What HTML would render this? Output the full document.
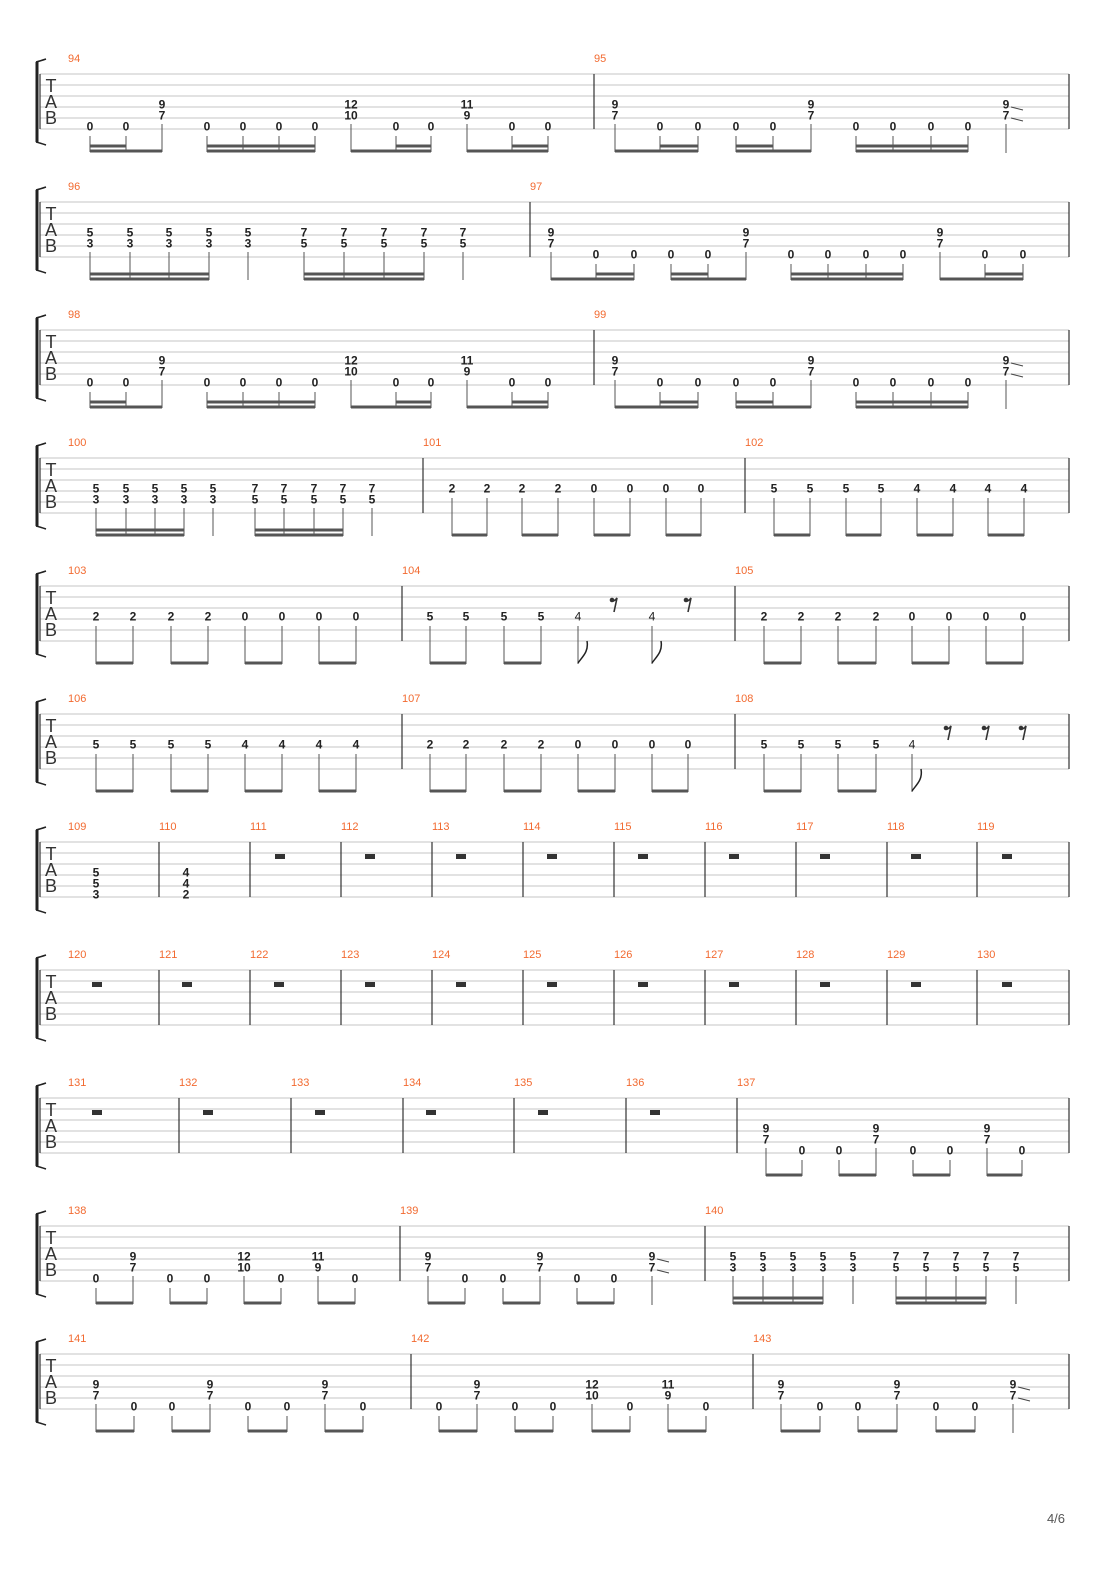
<!DOCTYPE html>
<html><head><meta charset="utf-8"><style>
body{margin:0;background:#fff}
svg{display:block}
.n{font:bold 12px "Liberation Sans",sans-serif;text-anchor:middle;fill:#222}
.f{font:12px "Liberation Sans",sans-serif;text-anchor:middle;fill:#222}
.m{font:11px "Liberation Sans",sans-serif;fill:#f26a30}
.tab{font:18px "Liberation Sans",sans-serif;text-anchor:middle;fill:#333}
.st{stroke:#c4c4c4;stroke-width:1;fill:none}
.br{stroke:#333;stroke-width:1.2;fill:none}
.sm{stroke:#555;stroke-width:1;fill:none}
.bm{stroke:#555;stroke-width:3;fill:none}
.cl{stroke:#222;stroke-width:3;fill:none}
.cc{stroke:#222;stroke-width:1.5;fill:none}
.sl{stroke:#444;stroke-width:1;fill:none}
.r{stroke:#333;stroke-width:1.6;fill:none}
</style></head><body>
<svg width="1110" height="1570" viewBox="0 0 1110 1570" xmlns="http://www.w3.org/2000/svg">
<defs></defs>

<!-- System 1 -->
<g transform="translate(0,74)">
<path class="st" d="M40 0H1069M40 11H1069M40 22H1069M40 33H1069M40 44H1069M40 55H1069"/>
<path class="cl" d="M37 -12V68"/><path class="cc" d="M36 -12Q40 -13 46 -15M36 68Q40 69 46 71"/>
<text class="tab" x="51" y="18">T</text><text class="tab" x="51" y="34">A</text><text class="tab" x="51" y="50">B</text>
<path class="br" d="M40 0V55M594 0V55M1069 0V55"/>
<text class="m" x="68" y="-12">94</text><text class="m" x="594" y="-12">95</text>
<text class="n" x="90" y="56.5">0</text><text class="n" x="126" y="56.5">0</text>
<text class="n" x="162" y="34.5">9</text><text class="n" x="162" y="45.5">7</text>
<text class="n" x="207" y="56.5">0</text><text class="n" x="243" y="56.5">0</text><text class="n" x="279" y="56.5">0</text><text class="n" x="315" y="56.5">0</text>
<text class="n" x="351" y="34.5">12</text><text class="n" x="351" y="45.5">10</text>
<text class="n" x="396" y="56.5">0</text><text class="n" x="431" y="56.5">0</text>
<text class="n" x="467" y="34.5">11</text><text class="n" x="467" y="45.5">9</text>
<text class="n" x="512" y="56.5">0</text><text class="n" x="548" y="56.5">0</text>
<text class="n" x="615" y="34.5">9</text><text class="n" x="615" y="45.5">7</text>
<text class="n" x="660" y="56.5">0</text><text class="n" x="698" y="56.5">0</text><text class="n" x="736" y="56.5">0</text><text class="n" x="773" y="56.5">0</text>
<text class="n" x="811" y="34.5">9</text><text class="n" x="811" y="45.5">7</text>
<text class="n" x="856" y="56.5">0</text><text class="n" x="893" y="56.5">0</text><text class="n" x="931" y="56.5">0</text><text class="n" x="968" y="56.5">0</text>
<text class="n" x="1006" y="34.5">9</text><text class="n" x="1006" y="45.5">7</text>
<path class="sl" d="M1011 33L1023 36M1011 44L1023 47"/>
<path class="sm" d="M90 62V78M126 62V78M162 50V78M207 62V78M243 62V78M279 62V78M315 62V78M351 50V78M396 62V78M431 62V78M467 50V78M512 62V78M548 62V78M615 50V78M660 62V78M698 62V78M736 62V78M773 62V78M811 50V78M856 62V78M893 62V78M931 62V78M968 62V78M1006 50V79"/>
<path class="bm" d="M90 77H162M207 77H315M351 77H431M467 77H548M615 77H698M736 77H811M856 77H968"/>
<path class="bm" d="M90 72H126M207 72H315M396 72H431M512 72H548M660 72H698M736 72H773M856 72H968"/>
</g>

<!-- System 2 -->
<g transform="translate(0,202)">
<path class="st" d="M40 0H1069M40 11H1069M40 22H1069M40 33H1069M40 44H1069M40 55H1069"/>
<path class="cl" d="M37 -12V68"/><path class="cc" d="M36 -12Q40 -13 46 -15M36 68Q40 69 46 71"/>
<text class="tab" x="51" y="18">T</text><text class="tab" x="51" y="34">A</text><text class="tab" x="51" y="50">B</text>
<path class="br" d="M40 0V55M530 0V55M1069 0V55"/>
<text class="m" x="68" y="-12">96</text><text class="m" x="530" y="-12">97</text>
<text class="n" x="90" y="34.5">5</text><text class="n" x="90" y="45.5">3</text>
<text class="n" x="130" y="34.5">5</text><text class="n" x="130" y="45.5">3</text>
<text class="n" x="169" y="34.5">5</text><text class="n" x="169" y="45.5">3</text>
<text class="n" x="209" y="34.5">5</text><text class="n" x="209" y="45.5">3</text>
<text class="n" x="248" y="34.5">5</text><text class="n" x="248" y="45.5">3</text>
<text class="n" x="304" y="34.5">7</text><text class="n" x="304" y="45.5">5</text>
<text class="n" x="344" y="34.5">7</text><text class="n" x="344" y="45.5">5</text>
<text class="n" x="384" y="34.5">7</text><text class="n" x="384" y="45.5">5</text>
<text class="n" x="424" y="34.5">7</text><text class="n" x="424" y="45.5">5</text>
<text class="n" x="463" y="34.5">7</text><text class="n" x="463" y="45.5">5</text>
<text class="n" x="551" y="34.5">9</text><text class="n" x="551" y="45.5">7</text>
<text class="n" x="596" y="56.5">0</text><text class="n" x="634" y="56.5">0</text><text class="n" x="671" y="56.5">0</text><text class="n" x="708" y="56.5">0</text>
<text class="n" x="746" y="34.5">9</text><text class="n" x="746" y="45.5">7</text>
<text class="n" x="791" y="56.5">0</text><text class="n" x="828" y="56.5">0</text><text class="n" x="866" y="56.5">0</text><text class="n" x="903" y="56.5">0</text>
<text class="n" x="940" y="34.5">9</text><text class="n" x="940" y="45.5">7</text>
<text class="n" x="985" y="56.5">0</text><text class="n" x="1023" y="56.5">0</text>
<path class="sm" d="M90 50V78M130 50V78M169 50V78M209 50V78M248 50V78M304 50V78M344 50V78M384 50V78M424 50V78M463 50V78M551 50V78M596 62V78M634 62V78M671 62V78M708 62V78M746 50V78M791 62V78M828 62V78M866 62V78M903 62V78M940 50V78M985 62V78M1023 62V78"/>
<path class="bm" d="M90 77H209M304 77H424M551 77H634M671 77H746M791 77H903M940 77H1023"/>
<path class="bm" d="M90 72H209M304 72H424M596 72H634M671 72H708M791 72H903M985 72H1023"/>
</g>

<!-- System 3 -->
<g transform="translate(0,330)">
<path class="st" d="M40 0H1069M40 11H1069M40 22H1069M40 33H1069M40 44H1069M40 55H1069"/>
<path class="cl" d="M37 -12V68"/><path class="cc" d="M36 -12Q40 -13 46 -15M36 68Q40 69 46 71"/>
<text class="tab" x="51" y="18">T</text><text class="tab" x="51" y="34">A</text><text class="tab" x="51" y="50">B</text>
<path class="br" d="M40 0V55M594 0V55M1069 0V55"/>
<text class="m" x="68" y="-12">98</text><text class="m" x="594" y="-12">99</text>
<text class="n" x="90" y="56.5">0</text><text class="n" x="126" y="56.5">0</text>
<text class="n" x="162" y="34.5">9</text><text class="n" x="162" y="45.5">7</text>
<text class="n" x="207" y="56.5">0</text><text class="n" x="243" y="56.5">0</text><text class="n" x="279" y="56.5">0</text><text class="n" x="315" y="56.5">0</text>
<text class="n" x="351" y="34.5">12</text><text class="n" x="351" y="45.5">10</text>
<text class="n" x="396" y="56.5">0</text><text class="n" x="431" y="56.5">0</text>
<text class="n" x="467" y="34.5">11</text><text class="n" x="467" y="45.5">9</text>
<text class="n" x="512" y="56.5">0</text><text class="n" x="548" y="56.5">0</text>
<text class="n" x="615" y="34.5">9</text><text class="n" x="615" y="45.5">7</text>
<text class="n" x="660" y="56.5">0</text><text class="n" x="698" y="56.5">0</text><text class="n" x="736" y="56.5">0</text><text class="n" x="773" y="56.5">0</text>
<text class="n" x="811" y="34.5">9</text><text class="n" x="811" y="45.5">7</text>
<text class="n" x="856" y="56.5">0</text><text class="n" x="893" y="56.5">0</text><text class="n" x="931" y="56.5">0</text><text class="n" x="968" y="56.5">0</text>
<text class="n" x="1006" y="34.5">9</text><text class="n" x="1006" y="45.5">7</text>
<path class="sl" d="M1011 33L1023 36M1011 44L1023 47"/>
<path class="sm" d="M90 62V78M126 62V78M162 50V78M207 62V78M243 62V78M279 62V78M315 62V78M351 50V78M396 62V78M431 62V78M467 50V78M512 62V78M548 62V78M615 50V78M660 62V78M698 62V78M736 62V78M773 62V78M811 50V78M856 62V78M893 62V78M931 62V78M968 62V78M1006 50V79"/>
<path class="bm" d="M90 77H162M207 77H315M351 77H431M467 77H548M615 77H698M736 77H811M856 77H968"/>
<path class="bm" d="M90 72H126M207 72H315M396 72H431M512 72H548M660 72H698M736 72H773M856 72H968"/>
</g>

<!-- System 4 -->
<g transform="translate(0,458)">
<path class="st" d="M40 0H1069M40 11H1069M40 22H1069M40 33H1069M40 44H1069M40 55H1069"/>
<path class="cl" d="M37 -12V68"/><path class="cc" d="M36 -12Q40 -13 46 -15M36 68Q40 69 46 71"/>
<text class="tab" x="51" y="18">T</text><text class="tab" x="51" y="34">A</text><text class="tab" x="51" y="50">B</text>
<path class="br" d="M40 0V55M423 0V55M745 0V55M1069 0V55"/>
<text class="m" x="68" y="-12">100</text><text class="m" x="423" y="-12">101</text><text class="m" x="745" y="-12">102</text>
<text class="n" x="96" y="34.5">5</text><text class="n" x="96" y="45.5">3</text>
<text class="n" x="126" y="34.5">5</text><text class="n" x="126" y="45.5">3</text>
<text class="n" x="155" y="34.5">5</text><text class="n" x="155" y="45.5">3</text>
<text class="n" x="184" y="34.5">5</text><text class="n" x="184" y="45.5">3</text>
<text class="n" x="213" y="34.5">5</text><text class="n" x="213" y="45.5">3</text>
<text class="n" x="255" y="34.5">7</text><text class="n" x="255" y="45.5">5</text>
<text class="n" x="284" y="34.5">7</text><text class="n" x="284" y="45.5">5</text>
<text class="n" x="314" y="34.5">7</text><text class="n" x="314" y="45.5">5</text>
<text class="n" x="343" y="34.5">7</text><text class="n" x="343" y="45.5">5</text>
<text class="n" x="372" y="34.5">7</text><text class="n" x="372" y="45.5">5</text>
<text class="n" x="452" y="34.5">2</text><text class="n" x="487" y="34.5">2</text><text class="n" x="522" y="34.5">2</text><text class="n" x="558" y="34.5">2</text>
<text class="n" x="594" y="34.5">0</text><text class="n" x="630" y="34.5">0</text><text class="n" x="666" y="34.5">0</text><text class="n" x="701" y="34.5">0</text>
<text class="n" x="774" y="34.5">5</text><text class="n" x="810" y="34.5">5</text><text class="n" x="846" y="34.5">5</text><text class="n" x="881" y="34.5">5</text>
<text class="n" x="917" y="34.5">4</text><text class="n" x="953" y="34.5">4</text><text class="n" x="988" y="34.5">4</text><text class="n" x="1024" y="34.5">4</text>
<path class="sm" d="M96 50V78M126 50V78M155 50V78M184 50V78M213 50V78M255 50V78M284 50V78M314 50V78M343 50V78M372 50V78M452 40V78M487 40V78M522 40V78M558 40V78M594 40V78M630 40V78M666 40V78M701 40V78M774 40V78M810 40V78M846 40V78M881 40V78M917 40V78M953 40V78M988 40V78M1024 40V78"/>
<path class="bm" d="M96 77H184M255 77H343M452 77H487M522 77H558M594 77H630M666 77H701M774 77H810M846 77H881M917 77H953M988 77H1024"/>
<path class="bm" d="M96 72H184M255 72H343"/>
</g>

<!-- System 5 -->
<g transform="translate(0,586)">
<path class="st" d="M40 0H1069M40 11H1069M40 22H1069M40 33H1069M40 44H1069M40 55H1069"/>
<path class="cl" d="M37 -12V68"/><path class="cc" d="M36 -12Q40 -13 46 -15M36 68Q40 69 46 71"/>
<text class="tab" x="51" y="18">T</text><text class="tab" x="51" y="34">A</text><text class="tab" x="51" y="50">B</text>
<path class="br" d="M40 0V55M402 0V55M735 0V55M1069 0V55"/>
<text class="m" x="68" y="-12">103</text><text class="m" x="402" y="-12">104</text><text class="m" x="735" y="-12">105</text>
<text class="n" x="96" y="34.5">2</text><text class="n" x="133" y="34.5">2</text><text class="n" x="171" y="34.5">2</text><text class="n" x="208" y="34.5">2</text>
<text class="n" x="245" y="34.5">0</text><text class="n" x="282" y="34.5">0</text><text class="n" x="319" y="34.5">0</text><text class="n" x="356" y="34.5">0</text>
<text class="n" x="430" y="34.5">5</text><text class="n" x="466" y="34.5">5</text><text class="n" x="504" y="34.5">5</text><text class="n" x="541" y="34.5">5</text>
<text class="f" x="578" y="34.5">4</text><text class="f" x="652" y="34.5">4</text>
<text class="n" x="764" y="34.5">2</text><text class="n" x="801" y="34.5">2</text><text class="n" x="838" y="34.5">2</text><text class="n" x="876" y="34.5">2</text>
<text class="n" x="912" y="34.5">0</text><text class="n" x="949" y="34.5">0</text><text class="n" x="986" y="34.5">0</text><text class="n" x="1023" y="34.5">0</text>
<path class="sm" d="M96 40V78M133 40V78M171 40V78M208 40V78M245 40V78M282 40V78M319 40V78M356 40V78M430 40V78M466 40V78M504 40V78M541 40V78M764 40V78M801 40V78M838 40V78M876 40V78M912 40V78M949 40V78M986 40V78M1023 40V78"/>
<path class="bm" d="M96 77H133M171 77H208M245 77H282M319 77H356M430 77H466M504 77H541M764 77H801M838 77H876M912 77H949M986 77H1023"/>
<path class="sm" d="M578 40V78M652 40V78"/>
<path class="cc" d="M578 77C582 71 589 66 587 55M652 77C656 71 663 66 661 55"/>
<circle cx="612" cy="14" r="2.3" fill="#333"/><path class="r" d="M611 15Q614 16 617 12L614 26"/>
<circle cx="686" cy="14" r="2.3" fill="#333"/><path class="r" d="M685 15Q688 16 691 12L688 26"/>
</g>

<!-- System 6 -->
<g transform="translate(0,714)">
<path class="st" d="M40 0H1069M40 11H1069M40 22H1069M40 33H1069M40 44H1069M40 55H1069"/>
<path class="cl" d="M37 -12V68"/><path class="cc" d="M36 -12Q40 -13 46 -15M36 68Q40 69 46 71"/>
<text class="tab" x="51" y="18">T</text><text class="tab" x="51" y="34">A</text><text class="tab" x="51" y="50">B</text>
<path class="br" d="M40 0V55M402 0V55M735 0V55M1069 0V55"/>
<text class="m" x="68" y="-12">106</text><text class="m" x="402" y="-12">107</text><text class="m" x="735" y="-12">108</text>
<text class="n" x="96" y="34.5">5</text><text class="n" x="133" y="34.5">5</text><text class="n" x="171" y="34.5">5</text><text class="n" x="208" y="34.5">5</text>
<text class="n" x="245" y="34.5">4</text><text class="n" x="282" y="34.5">4</text><text class="n" x="319" y="34.5">4</text><text class="n" x="356" y="34.5">4</text>
<text class="n" x="430" y="34.5">2</text><text class="n" x="466" y="34.5">2</text><text class="n" x="504" y="34.5">2</text><text class="n" x="541" y="34.5">2</text>
<text class="n" x="578" y="34.5">0</text><text class="n" x="615" y="34.5">0</text><text class="n" x="652" y="34.5">0</text><text class="n" x="688" y="34.5">0</text>
<text class="n" x="764" y="34.5">5</text><text class="n" x="801" y="34.5">5</text><text class="n" x="838" y="34.5">5</text><text class="n" x="876" y="34.5">5</text>
<text class="f" x="912" y="34.5">4</text>
<path class="sm" d="M96 40V78M133 40V78M171 40V78M208 40V78M245 40V78M282 40V78M319 40V78M356 40V78M430 40V78M466 40V78M504 40V78M541 40V78M578 40V78M615 40V78M652 40V78M688 40V78M764 40V78M801 40V78M838 40V78M876 40V78M912 40V78"/>
<path class="bm" d="M96 77H133M171 77H208M245 77H282M319 77H356M430 77H466M504 77H541M578 77H615M652 77H688M764 77H801M838 77H876"/>
<path class="cc" d="M912 77C916 71 923 66 921 55"/>
<circle cx="946" cy="14" r="2.3" fill="#333"/><path class="r" d="M945 15Q948 16 951 12L948 26"/>
<circle cx="984" cy="14" r="2.3" fill="#333"/><path class="r" d="M983 15Q986 16 989 12L986 26"/>
<circle cx="1021" cy="14" r="2.3" fill="#333"/><path class="r" d="M1020 15Q1023 16 1026 12L1023 26"/>
</g>

<!-- System 7 -->
<g transform="translate(0,842)">
<path class="st" d="M40 0H1069M40 11H1069M40 22H1069M40 33H1069M40 44H1069M40 55H1069"/>
<path class="cl" d="M37 -12V68"/><path class="cc" d="M36 -12Q40 -13 46 -15M36 68Q40 69 46 71"/>
<text class="tab" x="51" y="18">T</text><text class="tab" x="51" y="34">A</text><text class="tab" x="51" y="50">B</text>
<path class="br" d="M40 0V55M159 0V55M250 0V55M341 0V55M432 0V55M523 0V55M614 0V55M705 0V55M796 0V55M887 0V55M977 0V55M1069 0V55"/>
<text class="m" x="68" y="-12">109</text><text class="m" x="159" y="-12">110</text><text class="m" x="250" y="-12">111</text><text class="m" x="341" y="-12">112</text><text class="m" x="432" y="-12">113</text><text class="m" x="523" y="-12">114</text><text class="m" x="614" y="-12">115</text><text class="m" x="705" y="-12">116</text><text class="m" x="796" y="-12">117</text><text class="m" x="887" y="-12">118</text><text class="m" x="977" y="-12">119</text>
<text class="n" x="96" y="34.5">5</text><text class="n" x="96" y="45.5">5</text><text class="n" x="96" y="56.5">3</text>
<text class="n" x="186" y="34.5">4</text><text class="n" x="186" y="45.5">4</text><text class="n" x="186" y="56.5">2</text>
<g fill="#333"><rect x="275" y="12" width="10" height="5"/><rect x="365" y="12" width="10" height="5"/><rect x="456" y="12" width="10" height="5"/><rect x="547" y="12" width="10" height="5"/><rect x="638" y="12" width="10" height="5"/><rect x="729" y="12" width="10" height="5"/><rect x="820" y="12" width="10" height="5"/><rect x="911" y="12" width="10" height="5"/><rect x="1002" y="12" width="10" height="5"/></g>
</g>

<!-- System 8 -->
<g transform="translate(0,970)">
<path class="st" d="M40 0H1069M40 11H1069M40 22H1069M40 33H1069M40 44H1069M40 55H1069"/>
<path class="cl" d="M37 -12V68"/><path class="cc" d="M36 -12Q40 -13 46 -15M36 68Q40 69 46 71"/>
<text class="tab" x="51" y="18">T</text><text class="tab" x="51" y="34">A</text><text class="tab" x="51" y="50">B</text>
<path class="br" d="M40 0V55M159 0V55M250 0V55M341 0V55M432 0V55M523 0V55M614 0V55M705 0V55M796 0V55M887 0V55M977 0V55M1069 0V55"/>
<text class="m" x="68" y="-12">120</text><text class="m" x="159" y="-12">121</text><text class="m" x="250" y="-12">122</text><text class="m" x="341" y="-12">123</text><text class="m" x="432" y="-12">124</text><text class="m" x="523" y="-12">125</text><text class="m" x="614" y="-12">126</text><text class="m" x="705" y="-12">127</text><text class="m" x="796" y="-12">128</text><text class="m" x="887" y="-12">129</text><text class="m" x="977" y="-12">130</text>
<g fill="#333"><rect x="92" y="12" width="10" height="5"/><rect x="182" y="12" width="10" height="5"/><rect x="274" y="12" width="10" height="5"/><rect x="365" y="12" width="10" height="5"/><rect x="456" y="12" width="10" height="5"/><rect x="547" y="12" width="10" height="5"/><rect x="638" y="12" width="10" height="5"/><rect x="729" y="12" width="10" height="5"/><rect x="820" y="12" width="10" height="5"/><rect x="911" y="12" width="10" height="5"/><rect x="1002" y="12" width="10" height="5"/></g>
</g>

<!-- System 9 -->
<g transform="translate(0,1098)">
<path class="st" d="M40 0H1069M40 11H1069M40 22H1069M40 33H1069M40 44H1069M40 55H1069"/>
<path class="cl" d="M37 -12V68"/><path class="cc" d="M36 -12Q40 -13 46 -15M36 68Q40 69 46 71"/>
<text class="tab" x="51" y="18">T</text><text class="tab" x="51" y="34">A</text><text class="tab" x="51" y="50">B</text>
<path class="br" d="M40 0V55M179 0V55M291 0V55M403 0V55M514 0V55M626 0V55M737 0V55M1069 0V55"/>
<text class="m" x="68" y="-12">131</text><text class="m" x="179" y="-12">132</text><text class="m" x="291" y="-12">133</text><text class="m" x="403" y="-12">134</text><text class="m" x="514" y="-12">135</text><text class="m" x="626" y="-12">136</text><text class="m" x="737" y="-12">137</text>
<g fill="#333"><rect x="92" y="12" width="10" height="5"/><rect x="203" y="12" width="10" height="5"/><rect x="315" y="12" width="10" height="5"/><rect x="426" y="12" width="10" height="5"/><rect x="538" y="12" width="10" height="5"/><rect x="650" y="12" width="10" height="5"/></g>
<text class="n" x="766" y="34.5">9</text><text class="n" x="766" y="45.5">7</text>
<text class="n" x="802" y="56.5">0</text><text class="n" x="839" y="56.5">0</text>
<text class="n" x="876" y="34.5">9</text><text class="n" x="876" y="45.5">7</text>
<text class="n" x="913" y="56.5">0</text><text class="n" x="950" y="56.5">0</text>
<text class="n" x="987" y="34.5">9</text><text class="n" x="987" y="45.5">7</text>
<text class="n" x="1022" y="56.5">0</text>
<path class="sm" d="M766 50V78M802 62V78M839 62V78M876 50V78M913 62V78M950 62V78M987 50V78M1022 62V78"/>
<path class="bm" d="M766 77H802M839 77H876M913 77H950M987 77H1022"/>
</g>

<!-- System 10 -->
<g transform="translate(0,1226)">
<path class="st" d="M40 0H1069M40 11H1069M40 22H1069M40 33H1069M40 44H1069M40 55H1069"/>
<path class="cl" d="M37 -12V68"/><path class="cc" d="M36 -12Q40 -13 46 -15M36 68Q40 69 46 71"/>
<text class="tab" x="51" y="18">T</text><text class="tab" x="51" y="34">A</text><text class="tab" x="51" y="50">B</text>
<path class="br" d="M40 0V55M400 0V55M705 0V55M1069 0V55"/>
<text class="m" x="68" y="-12">138</text><text class="m" x="400" y="-12">139</text><text class="m" x="705" y="-12">140</text>
<text class="n" x="96" y="56.5">0</text>
<text class="n" x="133" y="34.5">9</text><text class="n" x="133" y="45.5">7</text>
<text class="n" x="170" y="56.5">0</text><text class="n" x="207" y="56.5">0</text>
<text class="n" x="244" y="34.5">12</text><text class="n" x="244" y="45.5">10</text>
<text class="n" x="281" y="56.5">0</text>
<text class="n" x="318" y="34.5">11</text><text class="n" x="318" y="45.5">9</text>
<text class="n" x="355" y="56.5">0</text>
<text class="n" x="428" y="34.5">9</text><text class="n" x="428" y="45.5">7</text>
<text class="n" x="465" y="56.5">0</text><text class="n" x="503" y="56.5">0</text>
<text class="n" x="540" y="34.5">9</text><text class="n" x="540" y="45.5">7</text>
<text class="n" x="577" y="56.5">0</text><text class="n" x="614" y="56.5">0</text>
<text class="n" x="652" y="34.5">9</text><text class="n" x="652" y="45.5">7</text>
<path class="sl" d="M657 33L669 36M657 44L669 47"/>
<text class="n" x="733" y="34.5">5</text><text class="n" x="733" y="45.5">3</text>
<text class="n" x="763" y="34.5">5</text><text class="n" x="763" y="45.5">3</text>
<text class="n" x="793" y="34.5">5</text><text class="n" x="793" y="45.5">3</text>
<text class="n" x="823" y="34.5">5</text><text class="n" x="823" y="45.5">3</text>
<text class="n" x="853" y="34.5">5</text><text class="n" x="853" y="45.5">3</text>
<text class="n" x="896" y="34.5">7</text><text class="n" x="896" y="45.5">5</text>
<text class="n" x="926" y="34.5">7</text><text class="n" x="926" y="45.5">5</text>
<text class="n" x="956" y="34.5">7</text><text class="n" x="956" y="45.5">5</text>
<text class="n" x="986" y="34.5">7</text><text class="n" x="986" y="45.5">5</text>
<text class="n" x="1016" y="34.5">7</text><text class="n" x="1016" y="45.5">5</text>
<path class="sm" d="M96 62V78M133 50V78M170 62V78M207 62V78M244 50V78M281 62V78M318 50V78M355 62V78M428 50V78M465 62V78M503 62V78M540 50V78M577 62V78M614 62V78M652 50V79M733 50V78M763 50V78M793 50V78M823 50V78M853 50V78M896 50V78M926 50V78M956 50V78M986 50V78M1016 50V78"/>
<path class="bm" d="M96 77H133M170 77H207M244 77H281M318 77H355M428 77H465M503 77H540M577 77H614M733 77H823M896 77H986"/>
<path class="bm" d="M733 72H823M896 72H986"/>
</g>

<!-- System 11 -->
<g transform="translate(0,1354)">
<path class="st" d="M40 0H1069M40 11H1069M40 22H1069M40 33H1069M40 44H1069M40 55H1069"/>
<path class="cl" d="M37 -12V68"/><path class="cc" d="M36 -12Q40 -13 46 -15M36 68Q40 69 46 71"/>
<text class="tab" x="51" y="18">T</text><text class="tab" x="51" y="34">A</text><text class="tab" x="51" y="50">B</text>
<path class="br" d="M40 0V55M411 0V55M753 0V55M1069 0V55"/>
<text class="m" x="68" y="-12">141</text><text class="m" x="411" y="-12">142</text><text class="m" x="753" y="-12">143</text>
<text class="n" x="96" y="34.5">9</text><text class="n" x="96" y="45.5">7</text>
<text class="n" x="134" y="56.5">0</text><text class="n" x="172" y="56.5">0</text>
<text class="n" x="210" y="34.5">9</text><text class="n" x="210" y="45.5">7</text>
<text class="n" x="248" y="56.5">0</text><text class="n" x="287" y="56.5">0</text>
<text class="n" x="325" y="34.5">9</text><text class="n" x="325" y="45.5">7</text>
<text class="n" x="363" y="56.5">0</text>
<text class="n" x="439" y="56.5">0</text>
<text class="n" x="477" y="34.5">9</text><text class="n" x="477" y="45.5">7</text>
<text class="n" x="515" y="56.5">0</text><text class="n" x="553" y="56.5">0</text>
<text class="n" x="592" y="34.5">12</text><text class="n" x="592" y="45.5">10</text>
<text class="n" x="630" y="56.5">0</text>
<text class="n" x="668" y="34.5">11</text><text class="n" x="668" y="45.5">9</text>
<text class="n" x="706" y="56.5">0</text>
<text class="n" x="781" y="34.5">9</text><text class="n" x="781" y="45.5">7</text>
<text class="n" x="820" y="56.5">0</text><text class="n" x="858" y="56.5">0</text>
<text class="n" x="897" y="34.5">9</text><text class="n" x="897" y="45.5">7</text>
<text class="n" x="936" y="56.5">0</text><text class="n" x="975" y="56.5">0</text>
<text class="n" x="1013" y="34.5">9</text><text class="n" x="1013" y="45.5">7</text>
<path class="sl" d="M1018 33L1030 36M1018 44L1030 47"/>
<path class="sm" d="M96 50V78M134 62V78M172 62V78M210 50V78M248 62V78M287 62V78M325 50V78M363 62V78M439 62V78M477 50V78M515 62V78M553 62V78M592 50V78M630 62V78M668 50V78M706 62V78M781 50V78M820 62V78M858 62V78M897 50V78M936 62V78M975 62V78M1013 50V79"/>
<path class="bm" d="M96 77H134M172 77H210M248 77H287M325 77H363M439 77H477M515 77H553M592 77H630M668 77H706M781 77H820M858 77H897M936 77H975"/>
</g>

<text x="1056" y="1523" style="font:13px 'Liberation Sans',sans-serif;fill:#555;text-anchor:middle">4/6</text>
</svg>
</body></html>
